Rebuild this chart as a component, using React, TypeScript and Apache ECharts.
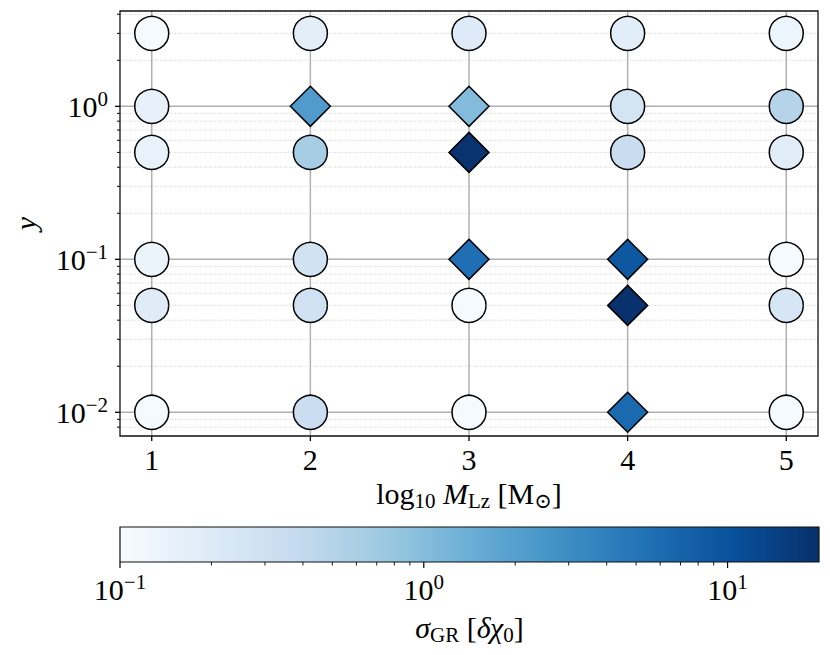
import React, { useEffect, useRef } from 'react';
import * as echarts from 'echarts';

// ---- data ----
const masses = [1, 2, 3, 4, 5];
const yValues = [0.01, 0.05, 0.1, 0.5, 1, 3];
// sigma_GR per mass column, ordered as yValues
const sigmaM1 = [0.105, 0.19, 0.135, 0.145, 0.15, 0.105];
const sigmaM2 = [0.33, 0.29, 0.28, 0.64, 2.2, 0.17];
const sigmaM3 = [0.105, 0.105, 5.5, 19, 1.05, 0.2];
const sigmaM4 = [6.3, 19.5, 9.0, 0.35, 0.26, 0.18];
const sigmaM5 = [0.105, 0.24, 0.105, 0.18, 0.5, 0.13];
// 1 = diamond marker, 0 = circle marker
const diamondM1 = [0, 0, 0, 0, 0, 0];
const diamondM2 = [0, 0, 0, 0, 1, 0];
const diamondM3 = [0, 0, 1, 1, 1, 0];
const diamondM4 = [1, 1, 1, 0, 0, 0];
const diamondM5 = [0, 0, 0, 0, 0, 0];

const massTicks = [1, 2, 3, 4, 5];
const yMajorTicks = [0.01, 0.1, 1];
const yMinorTicks = [0.008, 0.009, 0.02, 0.03, 0.04, 0.05, 0.06, 0.07, 0.08, 0.09,
  0.2, 0.3, 0.4, 0.5, 0.6, 0.7, 0.8, 0.9, 2, 3, 4];
const cbMajorTicks = [0.1, 1, 10];
const cbMinorTicks = [0.2, 0.3, 0.4, 0.5, 0.6, 0.7, 0.8, 0.9, 2, 3, 4, 5, 6, 7, 8, 9];

const X_RANGE = [0.8, 5.2];
const Y_RANGE = [0.007, 4.2];
const CB_RANGE = [0.1, 20];
const BLUES = ['#f7fbff', '#deebf7', '#c6dbef', '#9ecae1', '#6baed6', '#4292c6', '#2171b5', '#08519c', '#08306b'];

const FONT = "'Liberation Serif', 'DejaVu Serif', serif";

const sigmaByMass = [sigmaM1, sigmaM2, sigmaM3, sigmaM4, sigmaM5];
const diamondByMass = [diamondM1, diamondM2, diamondM3, diamondM4, diamondM5];

function decadeLabel(v: number) {
  const l = Math.log10(v);
  const r = Math.round(l);
  if (Math.abs(l - r) > 1e-6) return '';
  const e = r < 0 ? '\u2212' + Math.abs(r) : String(r);
  return `{b|10}{s|${e}}`;
}

const supRich = {
  b: { fontSize: 30, lineHeight: 36, fontFamily: FONT, color: '#000' },
  s: { fontSize: 21, verticalAlign: 'top', fontFamily: FONT, color: '#000' },
};

export default function App() {
  const ref = useRef<HTMLDivElement>(null);
  useEffect(() => {
    const chart = echarts.init(ref.current!, undefined, { renderer: 'svg', width: 830, height: 655 });

    const circleData: number[][] = [];
    const diamondData: number[][] = [];
    masses.forEach((m, i) => {
      yValues.forEach((y, j) => {
        const item = [m, y, Math.log10(sigmaByMass[i][j])];
        (diamondByMass[i][j] ? diamondData : circleData).push(item);
      });
    });

    const hLine = (dotted: boolean, tickLen: number) => (params: any, api: any) => {
      const p = api.coord([api.value(0), api.value(1)]);
      const cs = params.coordSys;
      return {
        type: 'group',
        children: [
          {
            type: 'line',
            shape: { x1: cs.x, y1: p[1], x2: cs.x + cs.width, y2: p[1] },
            style: dotted
              ? { stroke: '#c4c4c4', lineWidth: 0.8, lineDash: [1, 1.5] }
              : { stroke: '#b0b0b0', lineWidth: 1.5 },
          },
          {
            type: 'line',
            shape: { x1: cs.x, y1: p[1], x2: cs.x - tickLen, y2: p[1] },
            style: { stroke: '#000', lineWidth: dotted ? 1 : 1.3 },
          },
        ],
      };
    };

    const cbTick = (len: number) => (params: any, api: any) => {
      const p = api.coord([api.value(0), api.value(1)]);
      return {
        type: 'line',
        shape: { x1: p[0], y1: p[1], x2: p[0], y2: p[1] + len },
        style: { stroke: '#000', lineWidth: len > 4 ? 1.2 : 0.9 },
      };
    };

    const option: any = {
      animation: false,
      backgroundColor: '#fff',
      grid: [
        { left: 120, top: 11, width: 698, height: 425, show: true, borderColor: '#111', borderWidth: 1.3, z: 10 },
        { left: 120, top: 527, width: 699, height: 35, show: false },
      ],
      xAxis: [
        {
          type: 'value', gridIndex: 0, min: X_RANGE[0], max: X_RANGE[1],
          axisLine: { show: false }, axisTick: { show: false }, splitLine: { show: false },
          axisLabel: {
            formatter: (v: number) => (Math.abs(v - Math.round(v)) < 1e-9 ? String(Math.round(v)) : ''),
            fontSize: 30, lineHeight: 30, fontFamily: FONT, color: '#000', margin: 8,
          },
          name: '{r|log}{sub|10}{r| }{i|M}{sub|Lz}{r| [M}{sub|\u2299}{r|]}',
          nameLocation: 'middle', nameGap: 36,
          nameTextStyle: {
            rich: {
              r: { fontSize: 30, lineHeight: 36, fontFamily: FONT, color: '#000' },
              i: { fontSize: 30, lineHeight: 36, fontFamily: FONT, fontStyle: 'italic', color: '#000' },
              sub: { fontSize: 21, verticalAlign: 'bottom', fontFamily: FONT, color: '#000' },
            },
          },
        },
        {
          type: 'log', gridIndex: 1, min: CB_RANGE[0], max: CB_RANGE[1], logBase: 10,
          axisLine: { show: false }, axisTick: { show: false }, splitLine: { show: false },
          axisLabel: { formatter: decadeLabel, rich: supRich, margin: 9 },
          name: '{i|\u03c3}{sub|GR}{r| [}{i|\u03b4\u03c7}{sub|0}{r|]}',
          nameLocation: 'middle', nameGap: 47,
          nameTextStyle: {
            rich: {
              r: { fontSize: 30, lineHeight: 36, fontFamily: FONT, color: '#000' },
              i: { fontSize: 30, lineHeight: 36, fontFamily: FONT, fontStyle: 'italic', color: '#000' },
              sub: { fontSize: 21, verticalAlign: 'bottom', fontFamily: FONT, color: '#000' },
            },
          },
        },
      ],
      yAxis: [
        {
          type: 'log', gridIndex: 0, min: Y_RANGE[0], max: Y_RANGE[1], logBase: 10,
          axisLine: { show: false }, axisTick: { show: false }, splitLine: { show: false },
          axisLabel: { formatter: decadeLabel, rich: supRich, margin: 12 },
          name: 'y', nameLocation: 'middle', nameGap: 80, nameRotate: 90,
          nameTextStyle: { fontSize: 30, lineHeight: 30, fontFamily: FONT, fontStyle: 'italic', color: '#000' },
        },
        { type: 'value', gridIndex: 1, min: 0, max: 1, show: false },
      ],
      visualMap: {
        type: 'continuous', show: false, dimension: 2,
        min: Math.log10(CB_RANGE[0]), max: Math.log10(CB_RANGE[1]),
        inRange: { color: BLUES }, seriesIndex: [3, 4],
      },
      series: [
        {
          type: 'custom', xAxisIndex: 0, yAxisIndex: 0, z: 1, clip: false, silent: true,
          data: massTicks.map((m) => [m, Y_RANGE[0]]),
          renderItem: (params: any, api: any) => {
            const p = api.coord([api.value(0), api.value(1)]);
            const cs = params.coordSys;
            const b = cs.y + cs.height;
            return {
              type: 'group',
              children: [
                { type: 'line', shape: { x1: p[0], y1: cs.y, x2: p[0], y2: b }, style: { stroke: '#b0b0b0', lineWidth: 1.5 } },
                { type: 'line', shape: { x1: p[0], y1: b, x2: p[0], y2: b + 5 }, style: { stroke: '#000', lineWidth: 1.3 } },
              ],
            };
          },
        },
        {
          type: 'custom', xAxisIndex: 0, yAxisIndex: 0, z: 1, clip: false, silent: true,
          data: yMajorTicks.map((v) => [X_RANGE[0], v]),
          renderItem: hLine(false, 5),
        },
        {
          type: 'custom', xAxisIndex: 0, yAxisIndex: 0, z: 1, clip: false, silent: true,
          data: yMinorTicks.map((v) => [X_RANGE[0], v]),
          renderItem: hLine(true, 3),
        },
        {
          type: 'scatter', xAxisIndex: 0, yAxisIndex: 0, z: 3,
          symbol: 'circle', symbolSize: 34,
          itemStyle: { borderColor: '#000', borderWidth: 1.5, opacity: 1 },
          data: circleData,
        },
        {
          type: 'scatter', xAxisIndex: 0, yAxisIndex: 0, z: 3,
          symbol: 'diamond', symbolSize: [40, 40],
          itemStyle: { borderColor: '#000', borderWidth: 1.5, opacity: 1 },
          data: diamondData,
        },
        {
          type: 'custom', xAxisIndex: 1, yAxisIndex: 1, z: 2, clip: false, silent: true,
          data: [[CB_RANGE[0], 0, CB_RANGE[1], 1]],
          renderItem: (params: any, api: any) => {
            const a = api.coord([api.value(0), api.value(1)]);
            const b = api.coord([api.value(2), api.value(3)]);
            return {
              type: 'rect',
              shape: { x: a[0], y: b[1], width: b[0] - a[0], height: a[1] - b[1] },
              style: {
                fill: {
                  type: 'linear', x: 0, y: 0, x2: 1, y2: 0,
                  colorStops: BLUES.map((c, i) => ({ offset: i / (BLUES.length - 1), color: c })),
                },
                stroke: '#111', lineWidth: 1.2,
              },
            };
          },
        },
        {
          type: 'custom', xAxisIndex: 1, yAxisIndex: 1, z: 2, clip: false, silent: true,
          data: cbMajorTicks.map((v) => [v, 0]),
          renderItem: cbTick(6),
        },
        {
          type: 'custom', xAxisIndex: 1, yAxisIndex: 1, z: 2, clip: false, silent: true,
          data: cbMinorTicks.map((v) => [v, 0]),
          renderItem: cbTick(3.5),
        },
      ],
    };

    chart.setOption(option);
    return () => chart.dispose();
  }, []);

  return (
    <div
      ref={ref}
      style={{ position: 'fixed', left: 0, top: 0, width: 830, height: 655, background: '#fff' }}
    />
  );
}
